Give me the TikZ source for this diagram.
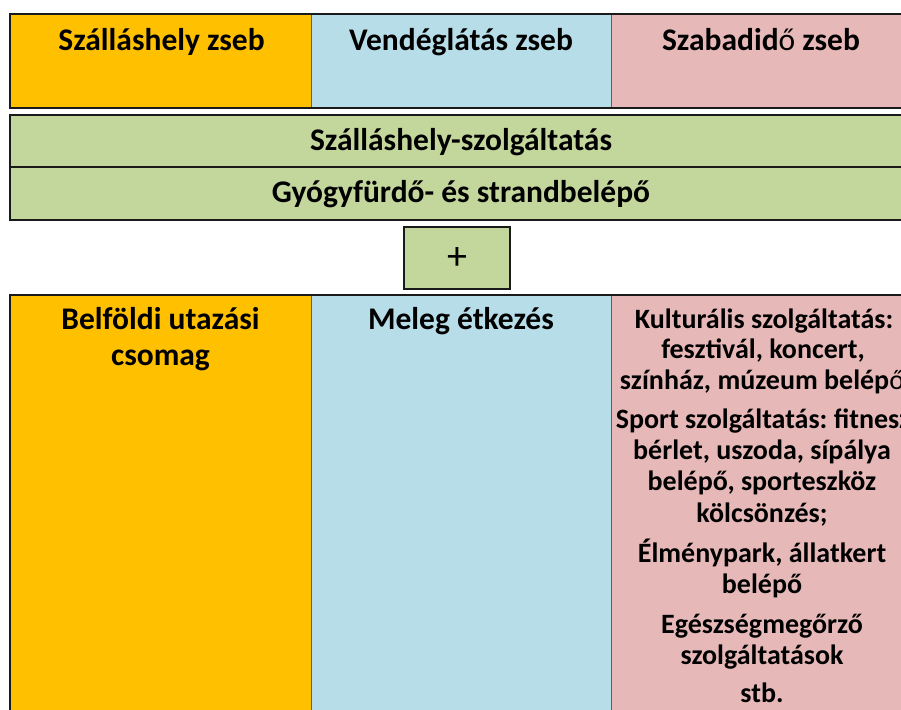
\documentclass[tikz,border=0pt]{standalone}
\usepackage{fontspec}
\setmainfont{Carlito}
\frenchspacing
\definecolor{cOrange}{HTML}{FFC000}
\definecolor{cBlue}{HTML}{B7DDE8}
\definecolor{cPink}{HTML}{E6B9B8}
\definecolor{cGreen}{HTML}{C3D69B}
\definecolor{cLine}{HTML}{1A1A1A}
\definecolor{cDiv}{HTML}{606060}
\begin{document}
\begin{tikzpicture}[x=1pt,y=-1pt,
  cell/.style={anchor=north west, inner sep=0pt, outer sep=0pt},
  outer/.style={draw=cLine, line width=2.5pt},
  divider/.style={draw=cDiv, line width=1pt},
  big/.style={anchor=base, inner sep=0pt, font=\fontsize{31.5}{34}\selectfont\bfseries},
  small/.style={anchor=base, inner sep=0pt, font=\fontsize{28}{31}\selectfont\bfseries}]
\useasboundingbox (0,0) rectangle (901,709);
\clip (0,0) rectangle (901,709);
\fill[white] (0,0) rectangle (901,709);
% top row
\node[cell, fill=cOrange, minimum width=301pt, minimum height=94pt] (h1) at (10,14) {};
\node[cell, fill=cBlue, minimum width=300pt, minimum height=94pt] (h2) at (311,14) {};
\node[cell, fill=cPink, minimum width=300pt, minimum height=94pt] (h3) at (611,14) {};
\draw[divider] (h1.north east) -- (h1.south east);
\draw[divider] (h2.north east) -- (h2.south east);
\draw[outer] (h1.north west) rectangle (h3.south east);
\node[big] (t1) at (161.5,50) {Szálláshely zseb};
\node[big] (t2) at (461,50) {Vendéglátás zseb};
\node[big] (t3) at (761,50) {Szabadid{\mdseries ő} zseb};
% green bars
\node[cell, fill=cGreen, draw=cLine, line width=2.2pt, minimum width=901pt, minimum height=52pt] (g1) at (10,115) {};
\node[cell, fill=cGreen, draw=cLine, line width=2.2pt, minimum width=901pt, minimum height=53pt] (g2) at (10,167) {};
\node[big] (tg1) at (461,150) {Szálláshely-szolgáltatás};
\node[big] (tg2) at (461,202) {Gyógyfürdő- és strandbelépő};
% plus
\node[cell, fill=cGreen, draw=cLine, line width=2.2pt, minimum width=106pt, minimum height=62pt] (plus) at (404,227) {};
\node[anchor=center, inner sep=0pt, font=\fontsize{40}{40}\selectfont] (tplus) at ([yshift=-1pt]plus.center) {+};
% bottom row
\node[cell, fill=cOrange, minimum width=301pt, minimum height=430pt] (b1) at (10,295) {};
\node[cell, fill=cBlue, minimum width=300pt, minimum height=430pt] (b2) at (311,295) {};
\node[cell, fill=cPink, minimum width=300pt, minimum height=430pt] (b3) at (611,295) {};
\draw[divider] (b1.north east) -- (b1.south east);
\draw[divider] (b2.north east) -- (b2.south east);
\draw[outer] (b1.north west) rectangle (b3.south east);
\node[big] (u1) at (160.5,329) {Belföldi utazási};
\node[big] (u2) at (160.5,365) {csomag};
\node[big] (m1) at (461,329) {Meleg étkezés};
\node[small] (r1) at (764,328) {Kulturális szolgáltatás:};
\node[small] (r2) at (763,358) {fesztivál, koncert,};
\node[small] (r3) at (762,389) {színház, múzeum belép{\mdseries ő}};
\node[small] (r4) at (763,428) {Sport szolgáltatás: fitnesz};
\node[small] (r5) at (762,459) {bérlet, uszoda, sípálya};
\node[small] (r6) at (762,490) {belépő, sporteszköz};
\node[small] (r7) at (762,522) {kölcsönzés;};
\node[small] (r8) at (762,562) {Élménypark, állatkert};
\node[small] (r9) at (762,593) {belépő};
\node[small] (r10) at (762,633) {Egészségmegőrző};
\node[small] (r11) at (762,664) {szolgáltatások};
\node[small] (r12) at (762,702) {stb.};
\end{tikzpicture}
\end{document}
